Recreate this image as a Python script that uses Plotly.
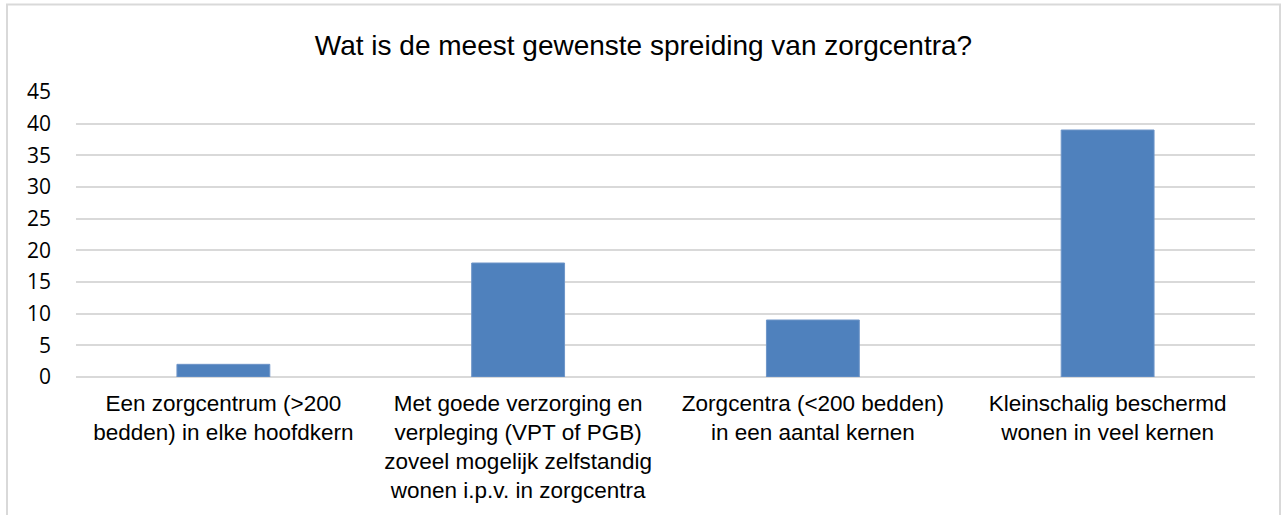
import plotly.graph_objects as go

categories = [
    "Een zorgcentrum (>200<br>bedden) in elke hoofdkern",
    "Met goede verzorging en<br>verpleging (VPT of PGB)<br>zoveel mogelijk zelfstandig<br>wonen i.p.v. in zorgcentra",
    "Zorgcentra (<200 bedden)<br>in een aantal kernen",
    "Kleinschalig beschermd<br>wonen in veel kernen",
]
values = [2, 18, 9, 39]
tick_vals = [0, 5, 10, 15, 20, 25, 30, 35, 40, 45]

fig = go.Figure(go.Bar(x=categories, y=values, marker=dict(color="#4F81BD", line=dict(color="#6E95C8", width=1)), width=0.315))

L, R, T, B = 76, 1255, 92, 379
W, H = 1287, 515
pw, ph = R - L, B - T

fig.update_layout(
    width=W, height=H,
    margin=dict(l=L, r=W - R, t=T, b=H - B),
    paper_bgcolor="white", plot_bgcolor="white",
    title=dict(text="Wat is de meest gewenste spreiding van zorgcentra?", x=0.5, xanchor="center",
               y=1 - 45 / H, yanchor="middle",
               font=dict(family="Liberation Sans, Arial", size=28, color="#000000")),
    showlegend=False,
    xaxis=dict(showgrid=False, showline=False, ticks="", tickfont=dict(family="Liberation Sans, Arial", size=22.5, color="#000000"),
               ticklabelstandoff=10),
    yaxis=dict(range=[0, 45], tickvals=tick_vals, showgrid=True, gridcolor="#D9D9D9", gridwidth=2,
               zeroline=True, zerolinecolor="#D9D9D9", zerolinewidth=2,
               tickfont=dict(family="Open Sans, Noto Sans", size=21, color="#000000"), ticklabelstandoff=24),
    shapes=[dict(type="rect", xref="paper", yref="paper",
                 x0=(7 - L) / pw, x1=(1280 - L) / pw, y0=-(530 - B) / ph, y1=(B - 4) / ph,
                 line=dict(color="#D9D9D9", width=2), fillcolor="rgba(0,0,0,0)", layer="below")],
)

fig.write_html("out.html", config={"displayModeBar": False},
               post_script="document.body.style.margin='0';document.body.style.overflow='hidden';")
